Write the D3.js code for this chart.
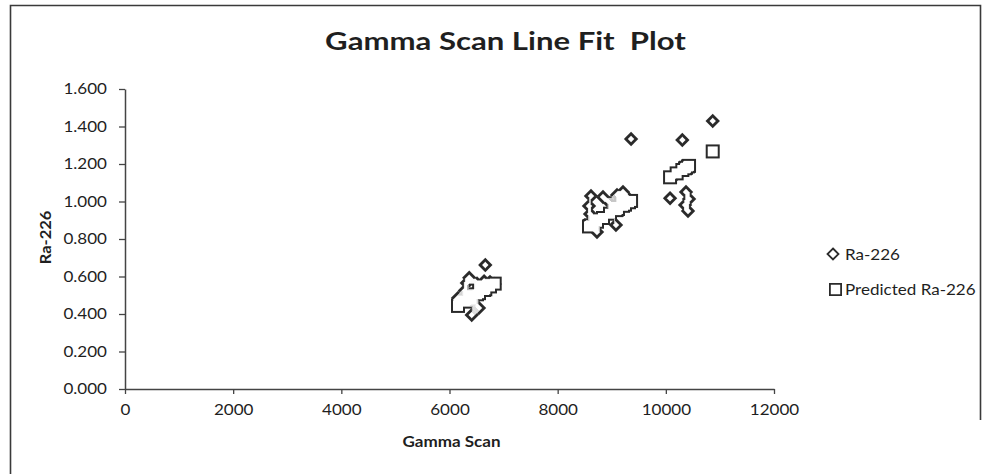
<!DOCTYPE html>
<html>
<head>
<meta charset="utf-8">
<script src="https://cdn.jsdelivr.net/npm/d3@7"></script>
<style>
  html, body { margin: 0; padding: 0; background: #ffffff; }
  svg { display: block; }
  text { font-family: Lato, "Open Sans", "Liberation Sans", sans-serif; fill: #1f1f1f; }
</style>
</head>
<body>
<svg id="chart" width="982" height="475"></svg>
<script>
// Gamma scan readings with the measured and the line-fit Ra-226 for each sample
const gammaScan = [
  6157, 6286, 6320, 6365, 6411, 6509, 6545, 6640, 6662, 6749, 6836,
  8579, 8598, 8616, 8727, 8838, 8968, 9078, 9097, 9115, 9208, 9245, 9319, 9357,
  10078, 10200, 10305, 10355, 10373, 10410, 10429, 10867
];
const ra226 = [
  0.485, 0.525, 0.565, 0.594, 0.395, 0.563, 0.432, 0.575, 0.661, 0.571, 0.560,
  0.976, 0.933, 1.029, 0.837, 1.024, 0.992, 0.875, 1.035, 0.992, 1.051, 1.013, 1.013, 1.333,
  1.017, 1.145, 1.328, 0.981, 1.051, 0.949, 1.013, 1.429
];
const predictedRa226 = [
  0.443, 0.466, 0.472, 0.480, 0.488, 0.505, 0.511, 0.528, 0.532, 0.547, 0.562,
  0.867, 0.870, 0.873, 0.892, 0.912, 0.935, 0.954, 0.957, 0.960, 0.977, 0.983, 0.996, 1.003,
  1.129, 1.150, 1.168, 1.177, 1.180, 1.187, 1.190, 1.267
];
const xTicks = [0, 2000, 4000, 6000, 8000, 10000, 12000];
const yTicks = [0, 0.2, 0.4, 0.6, 0.8, 1.0, 1.2, 1.4, 1.6];
const seriesNames = ["Ra-226", "Predicted Ra-226"];
const chartTitle = "Gamma Scan Line Fit\u00a0 Plot";
const xTitle = "Gamma Scan";
const yTitle = "Ra-226";

const ink = "#2b2b2b";
const axisInk = "#444";
const widen = 1.1;   // horizontal stretch applied to the lettering
const svg = d3.select("#chart");

// outline filter: keeps only a thin rim around the union of the filled markers
const defs = svg.append("defs");
const outline = defs.append("filter").attr("id", "markerOutline")
  .attr("filterUnits", "userSpaceOnUse")
  .attr("x", 0).attr("y", 0).attr("width", 982).attr("height", 475);
outline.append("feMorphology").attr("in", "SourceAlpha")
  .attr("operator", "erode").attr("radius", 1.6).attr("result", "core");
outline.append("feComposite").attr("in", "SourceGraphic").attr("in2", "core")
  .attr("operator", "out");

// chart-area frame
svg.append("path")
  .attr("d", "M10.5,474 L10.5,5.5 L980.5,5.5 L980.5,420")
  .attr("fill", "none").attr("stroke", "#3a3a3a").attr("stroke-width", 1.6);

const x = d3.scaleLinear().domain([0, 12000]).range([125, 774]);
const y = d3.scaleLinear().domain([0, 1.6]).range([389, 89]);

// axes
const xAxis = svg.append("g").attr("transform", `translate(0,${y(0)})`)
  .call(d3.axisBottom(x).tickValues(xTicks).tickFormat(d3.format("d"))
    .tickSize(5).tickSizeOuter(0).tickPadding(10));
const yAxis = svg.append("g").attr("transform", `translate(${x(0)},0)`)
  .call(d3.axisLeft(y).tickValues(yTicks).tickFormat(d3.format(".3f"))
    .tickSize(6).tickSizeOuter(0).tickPadding(10.4));
[xAxis, yAxis].forEach(g => {
  g.select(".domain").attr("stroke", axisInk).attr("stroke-width", 1.5);
  g.selectAll(".tick line").attr("stroke", axisInk).attr("stroke-width", 1.3);
  g.selectAll(".tick text")
    .style("font-size", "15.5px")
    .style("font-family", "Lato, 'Open Sans', sans-serif")
    .attr("fill", "#1f1f1f")
    .attr("transform", `scale(${widen},1)`);
});

// marker shapes
const diamondPath = (cx, cy, r) => `M${cx},${cy - r}L${cx + r},${cy}L${cx},${cy + r}L${cx - r},${cy}Z`;
const squarePath = (cx, cy, h) => `M${cx - h},${cy - h}H${cx + h}V${cy + h}H${cx - h}Z`;

// markers: filled shapes of both series, outlined together by the filter
const series = [
  { values: ra226, shape: diamondPath, size: 7.2 },
  { values: predictedRa226, shape: squarePath, size: 7 }
];
const marks = svg.append("g").attr("filter", "url(#markerOutline)");
series.forEach(s => {
  marks.append("g").selectAll("path").data(s.values).join("path")
    .attr("d", (v, i) => s.shape(x(gammaScan[i]), y(v), s.size)).attr("fill", ink);
});

// lettering helper: text placed at (px,py), optionally rotated, stretched horizontally
function label(str, px, py, size, weight, anchor, rotate, fitWidth) {
  const g = svg.append("g");
  const t = g.append("text").attr("text-anchor", anchor)
    .style("font-size", size + "px").style("font-weight", weight).text(str);
  let sx = widen;
  if (fitWidth) sx = fitWidth / t.node().getComputedTextLength();
  g.attr("transform", `translate(${px},${py}) rotate(${rotate || 0}) scale(${sx},1)`);
  return t;
}

label(chartTitle, 505.5, 50, 24, "bold", "middle", 0, 361);
label(xTitle, 451.5, 447, 15.5, "bold", "middle", 0);
label(yTitle, 51, 237.5, 15, "bold", "middle", -90);

// legend
const legend = svg.append("g");
legend.append("path").attr("d", diamondPath(833, 254, 5.5))
  .attr("fill", "#fff").attr("stroke", ink).attr("stroke-width", 1.8);
legend.append("path").attr("d", squarePath(835.5, 289.5, 5.6))
  .attr("fill", "#fff").attr("stroke", ink).attr("stroke-width", 1.8);
label(seriesNames[0], 845, 259.5, 15.5, "normal", "start", 0);
label(seriesNames[1], 845, 295, 15.5, "normal", "start", 0);
</script>
</body>
</html>
